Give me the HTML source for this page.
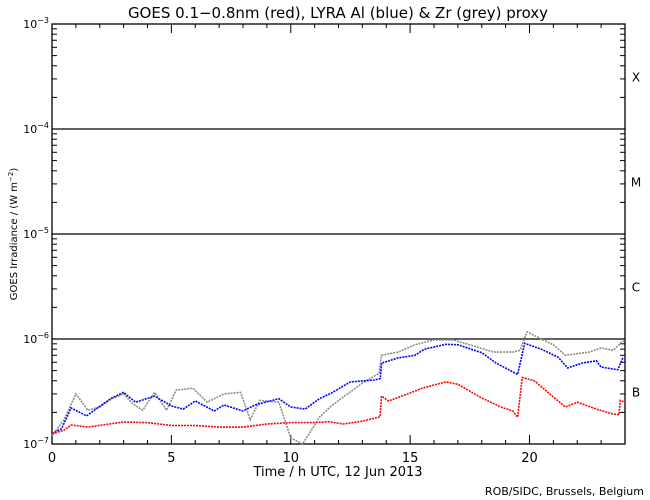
<!DOCTYPE html>
<html><head><meta charset="utf-8"><style>
body{margin:0;background:#fff}
svg{display:block;font-family:"DejaVu Sans","Liberation Sans",sans-serif}
</style></head><body>
<svg id="chart" width="650" height="500" viewBox="0 0 650 500">
<text x="338" y="18" font-size="15" text-anchor="middle">GOES 0.1−0.8nm (red), LYRA Al (blue) &amp; Zr (grey) proxy</text>
<g id="grid"></g><g id="axes"></g><g id="series"></g>
<text x="338" y="476" font-size="13" text-anchor="middle">Time / h UTC, 12 Jun 2013</text>
<text transform="translate(17,234) rotate(-90)" font-size="10" text-anchor="middle">GOES Irradiance / (W m<tspan baseline-shift="super" font-size="7">−2</tspan>)</text>
<text x="644" y="495" font-size="11" text-anchor="end">ROB/SIDC, Brussels, Belgium</text>
</svg>
<script>
const redH=[0,0.5,0.8,1.5,3,4,5,6,7,8,9,10,11,11.6,12.2,13,13.74,13.8,14.1,15,15.5,16.5,17,18,18.8,19.3,19.5,19.7,20.2,21,21.5,22,22.8,23.5,23.75,23.8,24];
const redV=[1.25e-7,1.35e-7,1.52e-7,1.45e-7,1.62e-7,1.6e-7,1.5e-7,1.5e-7,1.45e-7,1.45e-7,1.55e-7,1.6e-7,1.6e-7,1.63e-7,1.55e-7,1.65e-7,1.81e-7,2.86e-7,2.57e-7,3.06e-7,3.4e-7,3.9e-7,3.7e-7,2.74e-7,2.25e-7,2.06e-7,1.8e-7,4.3e-7,4.0e-7,2.8e-7,2.25e-7,2.5e-7,2.15e-7,1.93e-7,1.9e-7,2.6e-7,2.5e-7];
const blueH=[0,0.4,0.8,1.45,1.9,2.5,3,3.5,4.3,5,5.5,6,6.8,7.2,8,8.5,9.5,10,10.6,11.2,11.7,12.5,13.5,13.75,13.8,14.5,15.2,15.6,16.5,17,18,18.6,19.5,19.8,20.5,21.2,21.6,22.2,22.8,23,23.7,23.9,24];
const blueV=[1.25e-7,1.4e-7,2.2e-7,1.85e-7,2.2e-7,2.74e-7,3.1e-7,2.5e-7,2.86e-7,2.3e-7,2.15e-7,2.57e-7,2.06e-7,2.35e-7,2.06e-7,2.35e-7,2.7e-7,2.25e-7,2.15e-7,2.7e-7,3.05e-7,3.9e-7,4.07e-7,4.2e-7,5.9e-7,6.6e-7,7.0e-7,8.0e-7,8.9e-7,8.8e-7,7.4e-7,5.9e-7,4.6e-7,9.1e-7,8.0e-7,6.7e-7,5.3e-7,5.9e-7,6.2e-7,5.4e-7,5.1e-7,6.5e-7,6.5e-7];
const greyH=[0,0.5,1,1.5,2,2.5,3,3.4,3.8,4.3,4.8,5.2,5.9,6.5,7.2,7.9,8.3,8.7,9.5,10,10.5,11.2,11.7,12.2,13,13.7,13.8,14.5,15.2,16,16.8,17.5,18.5,19.3,19.6,19.9,20.5,21,21.5,22.5,23,23.5,23.9,24];
const greyV=[1.2e-7,1.7e-7,3.0e-7,2.1e-7,2.25e-7,2.7e-7,3.0e-7,2.4e-7,2.1e-7,3.1e-7,2.1e-7,3.26e-7,3.4e-7,2.5e-7,3.0e-7,3.1e-7,1.7e-7,2.6e-7,2.5e-7,1.14e-7,1.0e-7,1.8e-7,2.3e-7,2.8e-7,3.8e-7,4.7e-7,7.0e-7,7.5e-7,8.8e-7,9.8e-7,9.8e-7,8.8e-7,7.5e-7,7.5e-7,7.8e-7,1.17e-6,1.0e-6,8.8e-7,7.0e-7,7.5e-7,8.2e-7,7.8e-7,9.5e-7,9.5e-7];
const xTicks=["0","5","10","15","20"];
const yExp=["-7","-6","-5","-4","-3"];
const classes=["B","C","M","X"];

const X0=52,X1=625,Y0=444,Y1=24;
const xs=h=>X0+(X1-X0)*h/24;
const ys=v=>Y0-(Math.log10(v)+7)*(Y0-Y1)/4;
const NS="http://www.w3.org/2000/svg";
function mk(tag,attrs,parent){const e=document.createElementNS(NS,tag);for(const k in attrs)e.setAttribute(k,attrs[k]);parent.appendChild(e);return e;}
const axes=document.getElementById('axes'),grid=document.getElementById('grid'),ser=document.getElementById('series');
const frame=mk('rect',{x:X0,y:Y1,width:X1-X0,height:Y0-Y1,fill:'none',stroke:'#000','stroke-width':1.3},axes);


for(let d=0;d<4;d++){
  if(d>0){const l=mk('line',{x1:X0,x2:X1,y1:ys(Math.pow(10,-7+d)),y2:ys(Math.pow(10,-7+d)),stroke:'#000','stroke-width':1.3},grid);
  
  }
  for(let m=2;m<10;m++){const y=ys(m*Math.pow(10,-7+d));
    mk('line',{x1:X0,x2:X0+5,y1:y,y2:y,stroke:'#000'},axes);
    mk('line',{x1:X1-5,x2:X1,y1:y,y2:y,stroke:'#000'},axes);}
  const t=mk('text',{x:636,y:ys(Math.pow(10,-6.5+d))+5,'font-size':12,'text-anchor':'middle'},axes);
  t.textContent=classes[d];
  
  
}
yExp.forEach((e,i)=>{const y=ys(Math.pow(10,+e));
  const t=mk('text',{x:X0-3,y:y+4,'font-size':11,'text-anchor':'end'},axes);
  t.innerHTML='10<tspan dy="-5" font-size="8">'+e.replace('-','−')+'</tspan>';
  
  
  mk('line',{x1:X0,x2:X0+10,y1:y,y2:y,stroke:'#000'},axes);
  mk('line',{x1:X1-10,x2:X1,y1:y,y2:y,stroke:'#000'},axes);
});
for(let h=1;h<24;h++){const x=xs(h),L=h%5==0?9:4;
  mk('line',{x1:x,x2:x,y1:Y0,y2:Y0-L,stroke:'#000'},axes);
  mk('line',{x1:x,x2:x,y1:Y1,y2:Y1+L,stroke:'#000'},axes);}
xTicks.forEach(s=>{const t=mk('text',{x:xs(+s),y:Y0+18,'font-size':13,'text-anchor':'middle'},axes);
  t.textContent=s;
  
  });
function line(H,V,col,name){
  const p=mk('polyline',{points:H.map((h,i)=>xs(h).toFixed(1)+','+ys(V[i]).toFixed(1)).join(' '),fill:'none',stroke:col,'stroke-width':1.6,'stroke-dasharray':'2 1'},ser);
  
  
}
line(greyH,greyV,'#8c8c8c','zr-proxy-series');
line(blueH,blueV,'#0000ff','al-proxy-series');
line(redH,redV,'#ff0000','goes-series');
</script>
</body></html>
